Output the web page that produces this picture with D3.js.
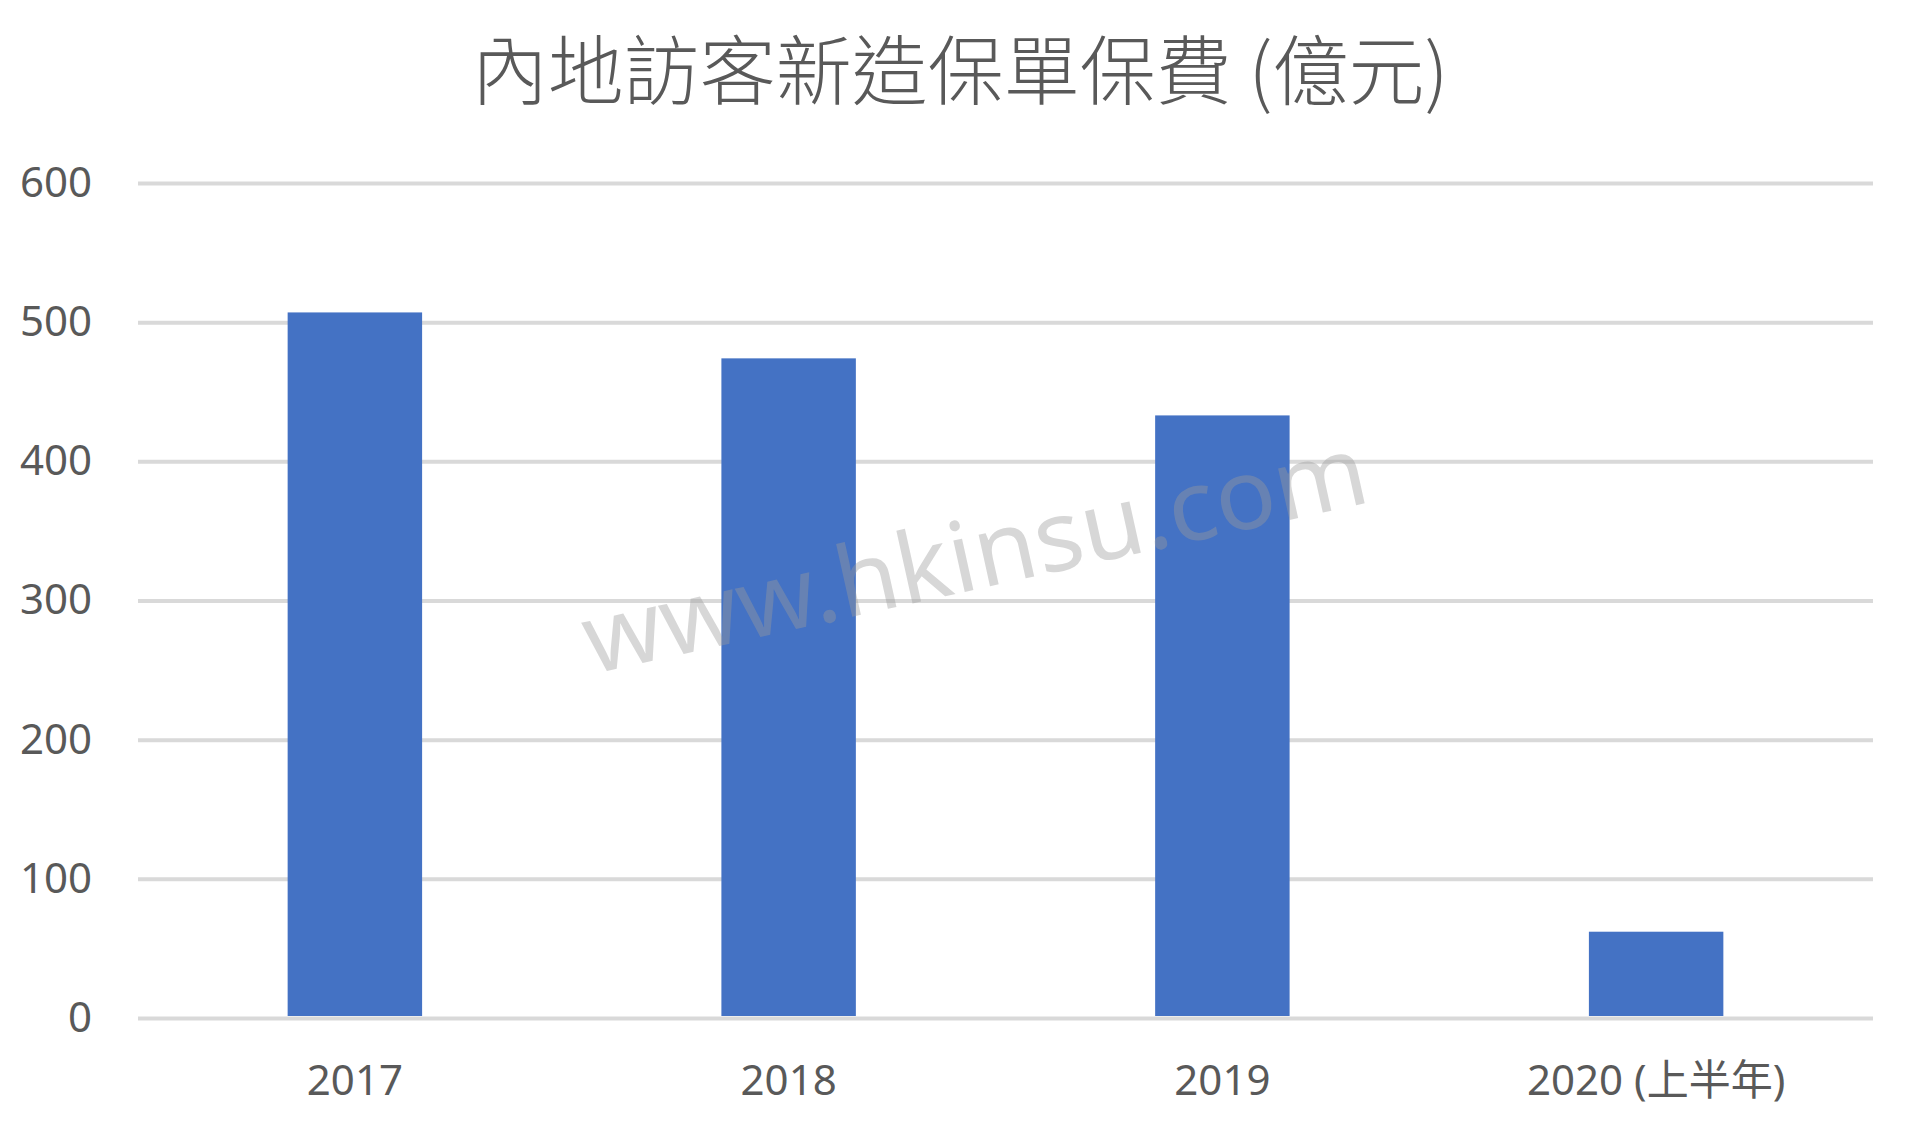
<!DOCTYPE html>
<html>
<head>
<meta charset="utf-8">
<script src="https://cdn.jsdelivr.net/npm/d3@7"></script>
<style>
  html, body { margin: 0; padding: 0; background: #ffffff; }
  svg { display: block; }
</style>
</head>
<body>
<div id="chart"></div>
<script>
// chart data
const categories = ['2017', '2018', '2019', '2020 (上半年)']
const premiums = [507, 474, 433, 62]
const yTicks = [0, 100, 200, 300, 400, 500, 600]
const chartTitle = '內地訪客新造保單保費 (億元)'
const watermark = 'www.hkinsu.com'

const fullWidth = 1920,
    fullHeight = 1124,
    margin = { top: 183, right: 47, bottom: 106, left: 138 }

const width = fullWidth - margin.left - margin.right,
    height = fullHeight - margin.top - margin.bottom

const textColor = '#595959',
    gridColor = '#d9d9d9',
    barColor = '#4472c4',
    latinFont = '"Noto Sans", "Open Sans", sans-serif',
    cjkFont = '"Noto Sans CJK TC", "Noto Sans", sans-serif'

const svg = d3.select('#chart')
    .append('svg')
    .attr('width', fullWidth)
    .attr('height', fullHeight)

svg.append('rect')
    .attr('width', fullWidth)
    .attr('height', fullHeight)
    .attr('fill', '#ffffff')

// title
svg.append('text')
    .attr('x', fullWidth / 2)
    .attr('y', 66)
    .attr('text-anchor', 'middle')
    .attr('dominant-baseline', 'central')
    .attr('font-family', cjkFont)
    .attr('font-weight', 300)
    .attr('font-size', 76)
    .attr('fill', textColor)
    .text(chartTitle)

const g = svg.append('g')
    .attr('transform', 'translate(' + margin.left + ',' + margin.top + ')')

let x = d3.scaleBand()
    .domain(categories)
    .range([0, width])
    .paddingInner(0.69)
    .paddingOuter(0.345)

let y = d3.scaleLinear()
    .domain([0, 600])
    .range([height, 0])

// gridlines + y labels
g.append('g')
    .attr('class', 'y-axis')
    .call(d3.axisLeft(y).tickValues(yTicks).tickSize(-width).tickPadding(46))
    .call(a => a.select('.domain').remove())
    .call(a => a.selectAll('.tick line')
        .attr('stroke', gridColor)
        .attr('stroke-width', 4))
    .call(a => a.selectAll('.tick text')
        .attr('fill', textColor)
        .attr('font-family', latinFont)
        .attr('font-size', 42))

// bars
g.append('g')
    .attr('class', 'bar')
    .selectAll('rect')
    .data(categories)
    .enter()
    .append('rect')
    .attr('x', d => x(d))
    .attr('y', (d, i) => y(premiums[i]))
    .attr('width', x.bandwidth())
    .attr('height', (d, i) => y(0) - y(premiums[i]) - 2)
    .attr('fill', barColor)

// x labels
g.append('g')
    .attr('class', 'x-axis')
    .attr('transform', 'translate(0,' + height + ')')
    .call(d3.axisBottom(x).tickSize(0).tickPadding(0))
    .call(a => a.select('.domain').remove())
    .call(a => a.selectAll('.tick text')
        .attr('y', 77)
        .attr('dy', null)
        .attr('fill', textColor)
        .attr('font-family', latinFont + ', ' + cjkFont)
        .attr('font-size', 42))

// watermark
svg.append('text')
    .attr('transform', 'translate(982,588) rotate(-12.5)')
    .attr('text-anchor', 'middle')
    .attr('font-family', latinFont)
    .attr('font-size', 98)
    .attr('textLength', 800)
    .attr('lengthAdjust', 'spacingAndGlyphs')
    .attr('fill', '#9c9c9c')
    .attr('opacity', 0.4)
    .text(watermark)
</script>
</body>
</html>
